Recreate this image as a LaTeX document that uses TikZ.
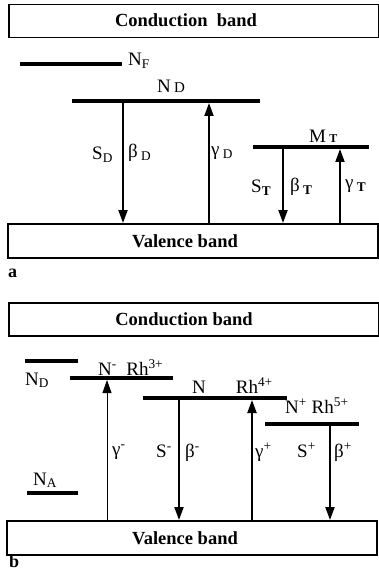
\documentclass[tikz,border=0pt]{standalone}
\usepackage{fontspec}
\setmainfont{Liberation Serif}
\usetikzlibrary{arrows.meta,positioning}
\tikzset{
  >={Triangle[width=9pt,length=13pt]},
  band/.style={draw, line width=1.5pt, rectangle, anchor=north west, inner sep=0pt,
    minimum width=370pt, minimum height=33pt},
  bandtext/.style={font=\fontsize{18.5}{20}\selectfont\bfseries, inner sep=0pt},
  level/.style={line width=4pt},
  trans/.style={->, line width=2pt},
  up/.style={trans, shorten >=2pt},
  lbl/.style={font=\fontsize{19}{20}\selectfont, inner sep=0pt, anchor=base west},
  panel/.style={font=\fontsize{18}{20}\selectfont\bfseries, inner sep=0pt, anchor=base west},
}
\newcommand{\sub}[1]{\textsubscript{#1}}
\newcommand{\sups}[1]{\textsuperscript{#1}}

\begin{document}
\begin{tikzpicture}[x=1pt, y=-1pt]
  \useasboundingbox (0,0) rectangle (379,585);

  % (a) bands
  \node[band] (cba) at (8,4) {};
  \node[bandtext] (cbatext) at (186,20) {Conduction\ \ band};
  \node[band, minimum height=34pt] (vba) at (7,223) {};
  \node[bandtext] (vbatext) at (185,241) {Valence band};

  % (a) levels
  \coordinate (nfL) at (20,64);   \coordinate (nfR) at (122,64);
  \coordinate (ndL) at (72,101);  \coordinate (ndR) at (260,101);
  \coordinate (mtL) at (253,147); \coordinate (mtR) at (369,147);
  \draw[level] (nfL) -- (nfR);
  \draw[level] (ndL) -- (ndR);
  \draw[level] (mtL) -- (mtR);
  \node[lbl] (nflbl) at (128,66) {N\sub{F}};
  \node[lbl] (ndlbl) at (157,93) {N\,{\fontsize{15}{15}\selectfont D}};
  \node[lbl] (mtlbl) at (309,143) {M\,{\fontsize{12}{12}\selectfont\bfseries T}};

  % (a) transitions
  \coordinate (sd) at (123,101);
  \coordinate (gd) at (209,101);
  \coordinate (st) at (283,147);
  \coordinate (gt) at (340,147);
  \draw[trans] (sd) -- (sd |- vba.north);
  \draw[up] (gd |- vba.north) -- (gd);
  \draw[trans] (st) -- (st |- vba.north);
  \draw[up] (gt |- vba.north) -- (gt);
  \node[lbl] (sdlbl) at (92,160) {S\sub{D}};
  \node[lbl] (bdlbl) at (128,158) {β\,\sub{D}};
  \node[lbl] (gdlbl) at (211,156) {γ\,\sub{D}};
  \node[lbl] (stlbl) at (251,193) {S\sub{\bfseries T}};
  \node[lbl] (btlbl) at (290,192) {β\,\sub{\bfseries T}};
  \node[lbl] (gtlbl) at (345,189) {γ\,\sub{\bfseries T}};
  \node[panel] (pa) at (8,277) {a};

  % (b) bands
  \node[band] (cbb) at (8,302) {};
  \node[bandtext] (cbbtext) at (184,319) {Conduction band};
  \node[band, minimum height=34pt] (vbb) at (6,520) {};
  \node[bandtext] (vbbtext) at (185,538) {Valence band};

  % (b) levels
  \coordinate (bndL) at (25,361);  \coordinate (bndR) at (78,361);
  \coordinate (nmL) at (70,378);   \coordinate (nmR) at (173,378);
  \coordinate (n0L) at (143,398);  \coordinate (n0R) at (287,398);
  \coordinate (npL) at (265,424);  \coordinate (npR) at (359,424);
  \coordinate (naL) at (27,493);   \coordinate (naR) at (78,493);
  \draw[level] (bndL) -- (bndR);
  \draw[level] (nmL) -- (nmR);
  \draw[level] (n0L) -- (n0R);
  \draw[level] (npL) -- (npR);
  \draw[level] (naL) -- (naR);
  \node[lbl] (bndlbl) at (25,385) {N\sub{D}};
  \node[lbl] (nmlbl) at (98,375) {N\sups{-}\ \ Rh\sups{3+}};
  \node[lbl] (n0lbl) at (192,393) {N\hspace{30pt}Rh\sups{4+}};
  \node[lbl] (nplbl) at (285,413) {N\sups{+} Rh\sups{5+}};
  \node[lbl] (nalbl) at (33,485) {N\sub{A}};

  % (b) transitions
  \coordinate (gm) at (107,378);
  \coordinate (sm) at (179,398);
  \coordinate (gp) at (252,398);
  \coordinate (sp) at (330,424);
  \draw[up, line width=1pt] (gm |- vbb.north) -- (gm);
  \draw[trans] (sm) -- (sm |- vbb.north);
  \draw[up] (gp |- vbb.north) -- (gp);
  \draw[trans] (sp) -- (sp |- vbb.north);
  \node[lbl] (gmlbl) at (112,455) {γ\sups{-}};
  \node[lbl] (smlbl) at (156,457) {S\sups{-}};
  \node[lbl] (bmlbl) at (185,457) {β\sups{-}};
  \node[lbl] (gplbl) at (255,457) {γ\sups{+}};
  \node[lbl] (splbl) at (297,457) {S\sups{+}};
  \node[lbl] (bplbl) at (334,457) {β\sups{+}};
  \node[panel] (pb) at (9,567) {b};
\end{tikzpicture}
\end{document}
